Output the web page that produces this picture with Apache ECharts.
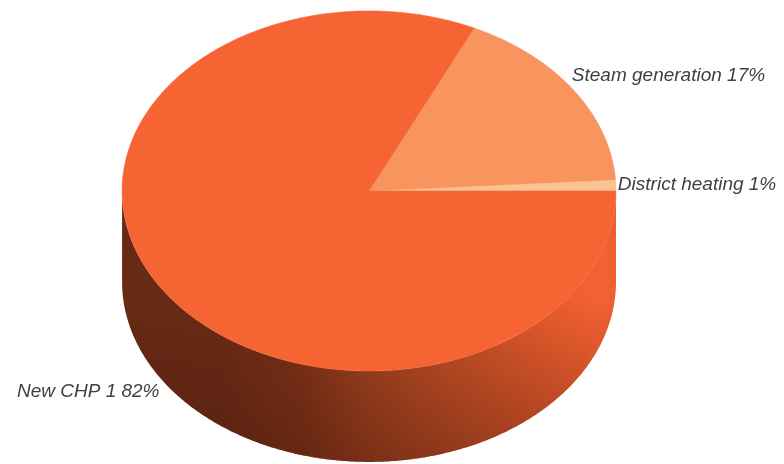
<!DOCTYPE html>
<html>
<head>
<meta charset="utf-8">
<script src="https://cdn.jsdelivr.net/npm/echarts@6/dist/echarts.min.js"></script>
<style>
  html, body { margin: 0; padding: 0; background: #ffffff; }
  #chart { width: 784px; height: 464px; }
</style>
</head>
<body>
<div id="chart"></div>
<script>
// Share of heat output by consumer
const categories = ['District heating', 'Steam generation', 'New CHP 1'];
const shares = [1, 17, 82];
const sliceColors = ['#FAC391', '#F8955F', '#F76434'];

const chart = echarts.init(document.getElementById('chart'), null, { renderer: 'canvas' });

const total = shares.reduce((a, b) => a + b, 0);
// cumulative start angles (counter-clockwise from 3 o'clock)
const starts = [];
shares.reduce((acc, v, i) => { starts[i] = acc; return acc + v; }, 0);

function geometry(api) {
  const w = api.getWidth(), h = api.getHeight();
  return { cx: w * 0.4707, cy: h * 0.4115, rx: w * 0.315, ry: h * 0.388, depth: h * 0.196 };
}

function pt(g, a, dy) {
  return [g.cx + g.rx * Math.cos(a), g.cy - g.ry * Math.sin(a) + (dy || 0)];
}

function arc(g, a0, a1, dy) {
  const n = Math.max(2, Math.ceil(Math.abs(a1 - a0) / 0.01));
  const out = [];
  for (let k = 0; k <= n; k++) out.push(pt(g, a0 + (a1 - a0) * k / n, dy));
  return out;
}

function renderItem(params, api) {
  const i = params.dataIndex;
  const g = geometry(api);
  const a0 = starts[i] / total * Math.PI * 2;
  const a1 = (starts[i] + shares[i]) / total * Math.PI * 2;
  const children = [];

  // visible outer wall: the part of the slice facing the viewer (angles pi..2pi)
  const f0 = Math.max(a0, Math.PI), f1 = Math.min(a1, Math.PI * 2);
  if (f1 > f0) {
    const top = arc(g, f0, f1, 0);
    const bottom = arc(g, f1, f0, g.depth);
    const wall = top.concat(bottom);
    // light falls from the right: brightness by position round the rim
    children.push({
      type: 'polygon',
      shape: { points: wall },
      style: {
        fill: {
          type: 'linear', x: g.cx - g.rx, y: 0, x2: g.cx + g.rx, y2: 0, global: true,
          colorStops: [
            { offset: 0, color: '#672A15' },
            { offset: 0.2, color: '#6A2B16' },
            { offset: 0.36, color: '#7E3219' },
            { offset: 0.5, color: '#A4431F' },
            { offset: 0.68, color: '#C85127' },
            { offset: 0.87, color: '#EA5C2D' },
            { offset: 0.97, color: '#F46232' },
            { offset: 1, color: '#EC5F30' }
          ]
        }
      }
    });
    // shading deepens toward the base
    children.push({
      type: 'polygon',
      shape: { points: wall },
      style: {
        fill: {
          type: 'linear', x: 0, y: g.cy + g.ry * 0.6, x2: 0, y2: g.cy + g.ry + g.depth, global: true,
          colorStops: [
            { offset: 0, color: 'rgba(64,21,9,0)' },
            { offset: 1, color: 'rgba(64,21,9,0.42)' }
          ]
        }
      }
    });
  }

  // top face of the slice
  children.push({
    type: 'polygon',
    shape: { points: [[g.cx, g.cy]].concat(arc(g, a0, a1, 0)) },
    style: { fill: sliceColors[i], stroke: sliceColors[i], lineWidth: 0.5 }
  });

  // label at the slice's middle angle
  const am = (a0 + a1) / 2;
  const p = pt(g, am, 0);
  const s = Math.sin(am), c = Math.cos(am);
  const lx = p[0] + (c >= 0 ? 20 * c - 18 : -1);
  const ly = p[1] - 25 * s + (s < 0 ? g.depth : 0);
  children.push({
    type: 'text',
    x: lx, y: ly,
    style: {
      text: categories[i] + ' ' + shares[i] + '%',
      fill: '#404040',
      font: 'italic 19px "Liberation Sans", Arial, sans-serif',
      align: c >= 0 ? 'left' : 'right',
      verticalAlign: 'middle'
    }
  });

  return { type: 'group', children: children };
}

chart.setOption({
  animation: false,
  backgroundColor: '#ffffff',
  series: [{
    type: 'custom',
    coordinateSystem: 'none',
    renderItem: renderItem,
    data: shares.map((v, i) => ({ name: categories[i], value: v }))
  }]
});
</script>
</body>
</html>
